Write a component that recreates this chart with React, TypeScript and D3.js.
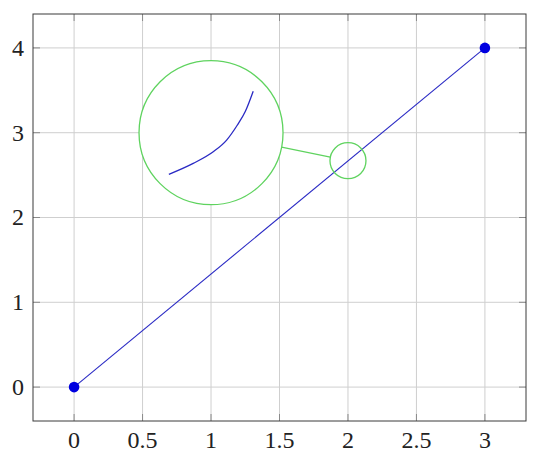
import React from "react";
import * as d3 from "d3";

const xTicks = [0, 0.5, 1, 1.5, 2, 2.5, 3];
const yTicks = [0, 1, 2, 3, 4];
const xTickLabels = ["0", "0.5", "1", "1.5", "2", "2.5", "3"];
const yTickLabels = ["0", "1", "2", "3", "4"];
const lineX = [0, 3];
const lineY = [0, 4];
// spy: small circle at (2, 2.67), large at (1, 3)
const spyOn = [2.0, 2.67];
const spyAt = [1.0, 3.0];
// magnified view of the line as it appears in the big circle (main-axis units)
const zoomCurveX = [0.692, 0.87, 1.016, 1.114, 1.19, 1.25, 1.308];
const zoomCurveY = [2.509, 2.638, 2.775, 2.913, 3.085, 3.25, 3.49];

const W = 540, H = 464;
const L = 33, R = 526, T = 14, B = 421;

export default function App() {
  const x = d3.scaleLinear().domain([-0.3, 3.3]).range([L, R]);
  const y = d3.scaleLinear().domain([-0.4, 4.4]).range([B, T]);
  const grid = "#cfcfcf";
  const tickC = "#8a8a8a";
  const green = "#5fd35f";
  const blue = "#2a2ac4";
  const font = "Liberation Serif, Times New Roman, serif";
  const tl = 7;

  const smallR = 18, bigR = 72;
  const sx = x(spyOn[0]), sy = y(spyOn[1]);
  const bx = x(spyAt[0]), by = y(spyAt[1]);
  const dx = sx - bx, dy = sy - by;
  const len = Math.hypot(dx, dy);
  const ux = dx / len, uy = dy / len;

  const curvePts = zoomCurveX.map((v, i) => [x(v), y(zoomCurveY[i])] as [number, number]);
  const curve = d3.line().curve(d3.curveMonotoneX)(curvePts) || "";

  return (
    <svg width={W} height={H} style={{ position: "absolute", left: 0, top: 0, background: "#fff" }}>
      <rect x={0} y={0} width={W} height={H} fill="#fff" />
      {/* grid */}
      {xTicks.map((t) => (
        <line key={"gx" + t} x1={x(t)} x2={x(t)} y1={T} y2={B} stroke={grid} strokeWidth={1} />
      ))}
      {yTicks.map((t) => (
        <line key={"gy" + t} x1={L} x2={R} y1={y(t)} y2={y(t)} stroke={grid} strokeWidth={1} />
      ))}
      {/* ticks */}
      {xTicks.map((t) => (
        <g key={"tx" + t}>
          <line x1={x(t)} x2={x(t)} y1={B} y2={B - tl} stroke={tickC} strokeWidth={1} />
          <line x1={x(t)} x2={x(t)} y1={T} y2={T + tl} stroke={tickC} strokeWidth={1} />
        </g>
      ))}
      {yTicks.map((t) => (
        <g key={"ty" + t}>
          <line x1={L} x2={L + tl} y1={y(t)} y2={y(t)} stroke={tickC} strokeWidth={1} />
          <line x1={R} x2={R - tl} y1={y(t)} y2={y(t)} stroke={tickC} strokeWidth={1} />
        </g>
      ))}
      {/* main line */}
      <line x1={x(lineX[0])} y1={y(lineY[0])} x2={x(lineX[1])} y2={y(lineY[1])} stroke={blue} strokeWidth={1.1} />
      {lineX.map((v, i) => (
        <circle key={"m" + i} cx={x(v)} cy={y(lineY[i])} r={5.3} fill="#0000e0" />
      ))}
      {/* spy */}
      <circle cx={sx} cy={sy} r={smallR} fill="none" stroke={green} strokeWidth={1.3} />
      <line x1={bx + ux * bigR} y1={by + uy * bigR} x2={sx - ux * smallR} y2={sy - uy * smallR} stroke={green} strokeWidth={1.3} />
      <circle cx={bx} cy={by} r={bigR} fill="#fff" stroke={green} strokeWidth={1.3} />
      <path d={curve} fill="none" stroke={blue} strokeWidth={1.3} />
      {/* frame */}
      <rect x={L} y={T} width={R - L} height={B - T} fill="none" stroke="#3a3a3a" strokeWidth={1} />
      {/* labels */}
      {xTicks.map((t, i) => (
        <text key={"lx" + t} x={x(t)} y={448} textAnchor="middle" fontFamily={font} fontSize={24} fill="#222">
          {xTickLabels[i]}
        </text>
      ))}
      {yTicks.map((t, i) => (
        <text key={"ly" + t} x={24} y={y(t)} dy="0.33em" textAnchor="end" fontFamily={font} fontSize={24} fill="#222">
          {yTickLabels[i]}
        </text>
      ))}
    </svg>
  );
}
